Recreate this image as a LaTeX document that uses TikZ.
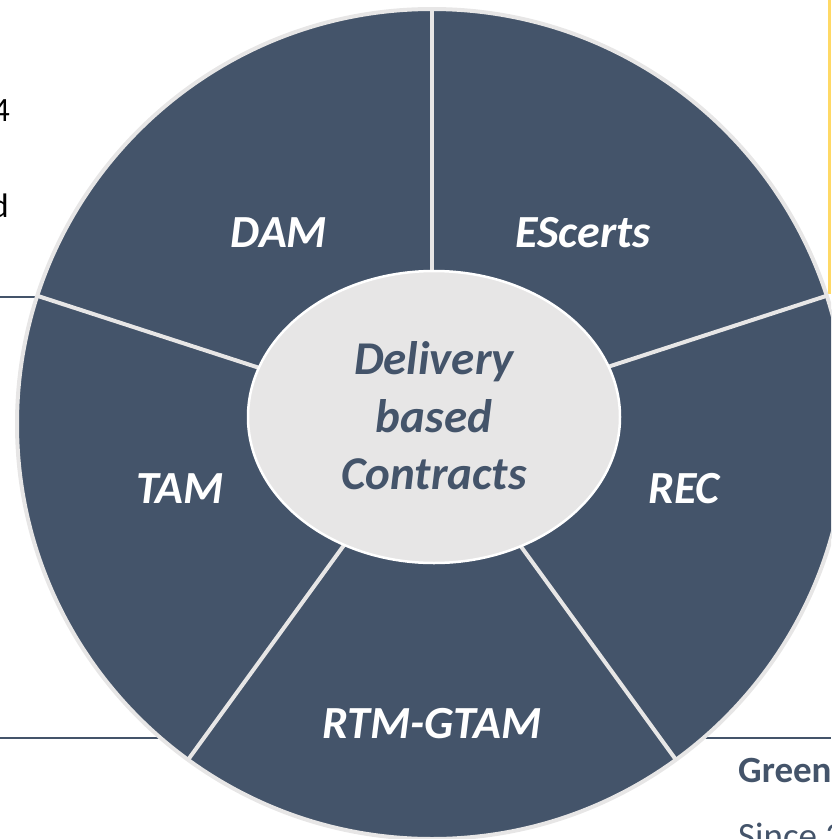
\documentclass[tikz,border=0pt]{standalone}
\usepackage{fontspec}
\usetikzlibrary{shapes.geometric}
\setmainfont{Carlito}
\definecolor{slate}{HTML}{44546A}
\definecolor{lgray}{HTML}{E7E6E6}
\definecolor{ylw}{HTML}{FFD966}
\begin{document}
\begin{tikzpicture}[x=1pt,y=-1pt,
  lbl/.style={text=white,font=\fontsize{46}{54}\selectfont\bfseries\itshape,inner sep=0pt,anchor=base},
  ctr/.style={text=slate,font=\fontsize{47}{57.5}\selectfont\bfseries\itshape,align=center,inner sep=0pt},
  divider/.style={draw=lgray,line width=4pt},
  rule/.style={draw=slate,line width=2.2pt},
  frag/.style={text=black,font=\fontsize{34}{40}\selectfont,inner sep=0pt},
  side/.style={text=slate,font=\fontsize{37}{44}\selectfont,inner sep=0pt}]
\useasboundingbox (0,0) rectangle (831,839);
\clip (0,0) rectangle (831,839);
% background fragments
\draw[rule] (0,297) -- (40,297);
\draw[rule] (0,738) -- (160,738);
\draw[rule] (705,738) -- (831,738);
\draw[draw=ylw,line width=3pt] (829.5,0) -- (829.5,294);
\node[frag,anchor=base east] (f4) at (10,121) {4};
\node[frag,anchor=base east] (fd) at (9,217) {d};
\node[side,anchor=base west,font=\fontsize{37}{44}\selectfont\bfseries] (green) at (738,782) {Green};
\node[side,anchor=base west] (since) at (738,848) {Since 2};
% wheel
\coordinate (c) at (432,424);
\coordinate (p1) at (432,9);
\coordinate (p2) at (826.7,295.8);
\coordinate (p3) at (37.3,295.8);
\coordinate (p4) at (188.1,759.7);
\coordinate (p5) at (675.9,759.7);
\fill[slate] (c) circle[radius=415pt];
\foreach \p in {p1,p2,p3,p4,p5} \draw[divider] (c) -- (\p);
\draw[draw=lgray,line width=4pt] (c) circle[radius=415pt];
\node[ellipse,draw=white,line width=2.5pt,fill=lgray,minimum width=372pt,minimum height=292pt,inner sep=0pt] (hub) at (434,417) {};
\node[ctr] (hubtext) at (434,416) {Delivery\\based\\Contracts};
\node[lbl] (dam) at (279,247) {DAM};
\node[lbl] (esc) at (583,247) {EScerts};
\node[lbl] (tam) at (180,503) {TAM};
\node[lbl] (rec) at (684,503) {REC};
\node[lbl] (rtm) at (432,738) {RTM-GTAM};
\end{tikzpicture}
\end{document}
